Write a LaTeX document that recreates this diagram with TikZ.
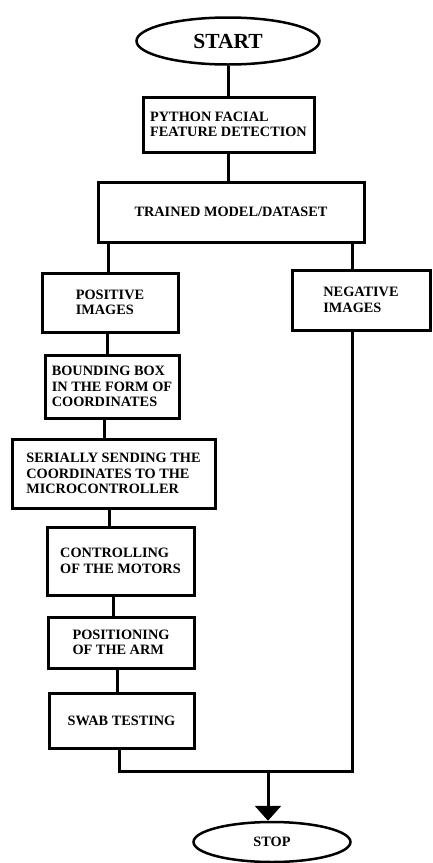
\documentclass[tikz,border=0pt]{standalone}
\usepackage{fontspec}
\setmainfont{Liberation Serif}
\usetikzlibrary{shapes.geometric,arrows.meta}

\begin{document}
\begin{tikzpicture}[x=1pt,y=-1pt,
  box/.style={draw,line width=3pt,rectangle,align=left,inner sep=2pt,
    font=\bfseries\fontsize{14.3}{15.5}\selectfont},
  term/.style={draw,line width=2.5pt,ellipse,inner sep=0pt},
  link/.style={line width=3pt}]

\useasboundingbox (0,0) rectangle (432,863);

\node[term,minimum width=183pt,minimum height=47pt,font=\bfseries\fontsize{21.5}{24}\selectfont] (start) at (228,41) {START};
\node[box,minimum width=171pt,minimum height=55pt] (python) at (228.5,124.5) {PYTHON FACIAL\\FEATURE DETECTION};
\node[box,minimum width=266pt,minimum height=60pt] (model) at (231,212) {TRAINED MODEL/DATASET};
\node[box,minimum width=136pt,minimum height=59pt] (pos) at (110,302.5) {POSITIVE\\IMAGES};
\node[box,minimum width=138pt,minimum height=60pt] (neg) at (361,300) {NEGATIVE\\IMAGES};
\node[box,minimum width=134pt,minimum height=63pt] (bbox) at (112,386.5) {BOUNDING BOX\\IN THE FORM OF\\COORDINATES};
\node[box,minimum width=203pt,minimum height=69pt] (serial) at (113.5,473.5) {SERIALLY SENDING THE\\COORDINATES TO THE\\MICROCONTROLLER};
\node[box,minimum width=147pt,minimum height=68pt] (motors) at (120.5,561) {CONTROLLING\\OF THE MOTORS};
\node[box,minimum width=146pt,minimum height=51pt] (arm) at (121,642.5) {POSITIONING\\OF THE ARM};
\node[box,minimum width=145pt,minimum height=55pt] (swab) at (121.5,720.5) {SWAB TESTING};
\node[term,minimum width=157pt,minimum height=40pt,font=\bfseries\fontsize{14.3}{16}\selectfont] (stop) at (272,842) {STOP};

\coordinate (merge) at (352,771);

\draw[link] (start.south) -- (start.south |- python.north);
\draw[link] (python.south) -- (python.south |- model.north);
\draw[link] ([xshift=-2pt]pos.north |- model.south) -- ([xshift=-2pt]pos.north);
\draw[link] ([xshift=-9pt]neg.north |- model.south) -- ([xshift=-9pt]neg.north);
\draw[link] ([xshift=-3pt]pos.south) -- ([xshift=-3pt]pos.south |- bbox.north);
\draw[link] ([xshift=-8pt]bbox.south) -- ([xshift=-8pt]bbox.south |- serial.north);
\draw[link] ([xshift=-4pt]serial.south) -- ([xshift=-4pt]serial.south |- motors.north);
\draw[link] ([xshift=-7pt]motors.south) -- ([xshift=-7pt]motors.south |- arm.north);
\draw[link] ([xshift=-4pt]arm.south) -- ([xshift=-4pt]arm.south |- swab.north);
\draw[link] ([xshift=-2pt]swab.south) |- (merge) -- (merge |- neg.south);
\draw[link,-{Triangle[length=15pt,width=26pt]}] ([xshift=-4pt]stop.north |- merge) -- ([xshift=-4pt]stop.north);
\end{tikzpicture}
\end{document}
